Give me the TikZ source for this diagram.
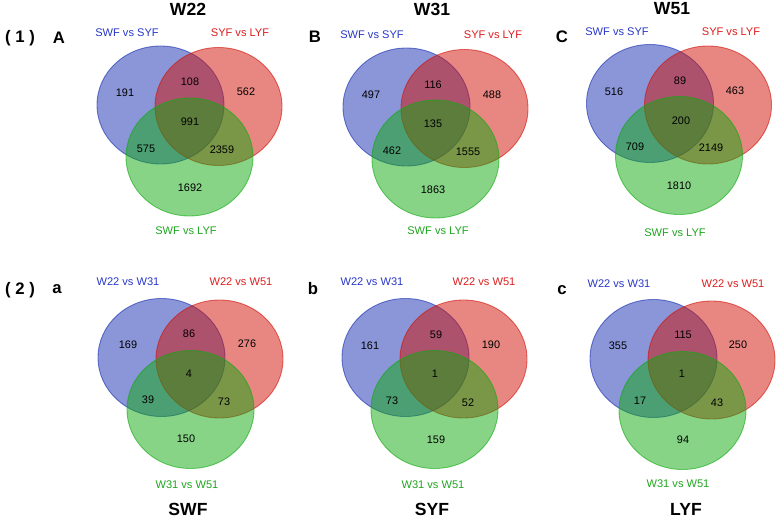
\documentclass[tikz,border=0pt]{standalone}
\usepackage{fontspec}
\setmainfont{Liberation Sans}
\usepackage{xcolor}
\definecolor{setblue}{RGB}{   21,  45, 175}
\definecolor{setred}{RGB}{   209,  15,   5}
\definecolor{setgreen}{RGB}{  15, 169,  15}
\definecolor{txtblue}{RGB}{   40,  55, 200}
\definecolor{txtred}{RGB}{   220,  30,  30}
\definecolor{txtgreen}{RGB}{  30, 165,  30}
\usepackage{tikz}
\usetikzlibrary{positioning}

%% three overlapping sets, placed round the centre of the blue one
\newcommand{\vennsets}{%
  \filldraw [setA] (0,0)      circle [x radius=63.5, y radius=59];
  \filldraw [setB] (58,1.5)   circle [x radius=63.5, y radius=59];
  \filldraw [setC] (29,52)    circle [x radius=63.5, y radius=59];
}

\begin{document}
\begin{tikzpicture}[
  x=0.02cm, y=-0.02cm,
  setA/.style={fill=setblue, draw=setblue, fill opacity=0.5, draw opacity=0.6, line width=0.5pt},
  setB/.style={fill=setred, draw=setred, fill opacity=0.5, draw opacity=0.6, line width=0.5pt},
  setC/.style={fill=setgreen, draw=setgreen, fill opacity=0.5, draw opacity=0.6, line width=0.5pt},
  num/.style={font=\fontsize{6.2}{7}\selectfont, inner sep=0pt},
  lab/.style={font=\fontsize{6.3}{7.5}\selectfont, inner sep=0pt},
  title/.style={font=\fontsize{10}{12}\selectfont\bfseries, inner sep=0pt},
  panel/.style={font=\fontsize{9.5}{11}\selectfont\bfseries, inner sep=0pt}
]
\useasboundingbox (0,0) rectangle (777,519);

%% Row (1): comparisons between fruit types at each stage
\node (row1) [panel] at (20,38) {( 1 )};
\node (tW22) [title] at (188,9) {W22};
\node (tW31) [title] at (432,9) {W31};
\node (tW51) [title] at (672,9) {W51};

%% Panel A
\node (pA) [panel] at (59,38) {A};
\begin{scope}[shift={(160.5,105)}] \vennsets \end{scope}
\node (A-lb) [lab, txtblue]  at (127,33)  {SWF vs SYF};
\node (A-lr) [lab, txtred]   at (240,33)  {SYF vs LYF};
\node (A-lg) [lab, txtgreen] at (186,231) {SWF vs LYF};
\node (A-b)   [num] at (125,93)  {191};
\node (A-br)  [num] at (190,82)  {108};
\node (A-r)   [num] at (246,92)  {562};
\node (A-brg) [num] at (190,122) {991};
\node (A-bg)  [num] at (146,149) {575};
\node (A-rg)  [num] at (222,150) {2359};
\node (A-g)   [num] at (190,188) {1692};

%% Panel B
\node (pB) [panel] at (315,37) {B};
\begin{scope}[shift={(406.5,107)}] \vennsets \end{scope}
\node (B-lb) [lab, txtblue]  at (372,35)  {SWF vs SYF};
\node (B-lr) [lab, txtred]   at (493,35)  {SYF vs LYF};
\node (B-lg) [lab, txtgreen] at (438,231) {SWF vs LYF};
\node (B-b)   [num] at (371,95)  {497};
\node (B-br)  [num] at (433,85)  {116};
\node (B-r)   [num] at (492,95)  {488};
\node (B-brg) [num] at (433,124) {135};
\node (B-bg)  [num] at (392,151) {462};
\node (B-rg)  [num] at (468,152) {1555};
\node (B-g)   [num] at (433,190) {1863};

%% Panel C
\node (pC) [panel] at (562,37) {C};
\begin{scope}[shift={(650,103.5)}] \vennsets \end{scope}
\node (C-lb) [lab, txtblue]  at (617,32)  {SWF vs SYF};
\node (C-lr) [lab, txtred]   at (731,32)  {SYF vs LYF};
\node (C-lg) [lab, txtgreen] at (675,233) {SWF vs LYF};
\node (C-b)   [num] at (614,92)  {516};
\node (C-br)  [num] at (680,81)  {89};
\node (C-r)   [num] at (735,91)  {463};
\node (C-brg) [num] at (681,121) {200};
\node (C-bg)  [num] at (635,147) {709};
\node (C-rg)  [num] at (711,148) {2149};
\node (C-g)   [num] at (679,186) {1810};

%% Row (2): comparisons between stages for each fruit type
\node (row2) [panel] at (20,290) {( 2 )};

%% Panel a
\node (pa) [panel] at (57,289) {a};
\begin{scope}[shift={(161.5,357.5)}] \vennsets \end{scope}
\node (a-lb) [lab, txtblue]  at (128,282) {W22 vs W31};
\node (a-lr) [lab, txtred]   at (241,282) {W22 vs W51};
\node (a-lg) [lab, txtgreen] at (187,485) {W31 vs W51};
\node (a-b)   [num] at (128,345) {169};
\node (a-br)  [num] at (189,334) {86};
\node (a-r)   [num] at (247,344) {276};
\node (a-brg) [num] at (189,374) {4};
\node (a-bg)  [num] at (148,400) {39};
\node (a-rg)  [num] at (224,402) {73};
\node (a-g)   [num] at (186,439) {150};
\node (tSWF) [title] at (188,509) {SWF};

%% Panel b
\node (pb) [panel] at (313,289) {b};
\begin{scope}[shift={(405.5,357.5)}] \vennsets \end{scope}
\node (b-lb) [lab, txtblue]  at (372,282) {W22 vs W31};
\node (b-lr) [lab, txtred]   at (484,282) {W22 vs W51};
\node (b-lg) [lab, txtgreen] at (433,485) {W31 vs W51};
\node (b-b)   [num] at (370,346) {161};
\node (b-br)  [num] at (436,335) {59};
\node (b-r)   [num] at (491,345) {190};
\node (b-brg) [num] at (435,374) {1};
\node (b-bg)  [num] at (392,401) {73};
\node (b-rg)  [num] at (468,403) {52};
\node (b-g)   [num] at (436,440) {159};
\node (tSYF) [title] at (432,509) {SYF};

%% Panel c
\node (pc) [panel] at (562,290) {c};
\begin{scope}[shift={(653.5,358.5)}] \vennsets \end{scope}
\node (c-lb) [lab, txtblue]  at (619,284) {W22 vs W31};
\node (c-lr) [lab, txtred]   at (733,284) {W22 vs W51};
\node (c-lg) [lab, txtgreen] at (678,484) {W31 vs W51};
\node (c-b)   [num] at (618,346) {355};
\node (c-br)  [num] at (683,335) {115};
\node (c-r)   [num] at (738,345) {250};
\node (c-brg) [num] at (682,374) {1};
\node (c-bg)  [num] at (640,401) {17};
\node (c-rg)  [num] at (717,403) {43};
\node (c-g)   [num] at (683,440) {94};
\node (tLYF) [title] at (686,509) {LYF};

\end{tikzpicture}
\end{document}
